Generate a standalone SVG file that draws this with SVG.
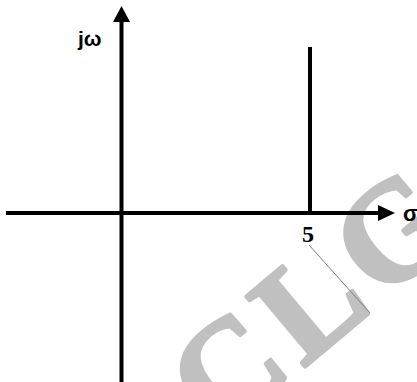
<svg xmlns="http://www.w3.org/2000/svg" width="417" height="382" viewBox="0 0 417 382">
<style>
.ax{stroke:#000;stroke-width:4;fill:none}
.lbl{font-family:"Liberation Sans",Arial,sans-serif;font-weight:bold;fill:#000}
.wm{font-family:"Liberation Serif","Times New Roman",serif;font-weight:bold;fill:#c0c0c0;stroke:#c0c0c0;stroke-width:4;stroke-linejoin:round}
</style>
<rect width="417" height="382" fill="#fff"/>
<g id="watermark">
<text class="wm" x="0" y="0" font-size="140" letter-spacing="9" transform="translate(219,439) rotate(-40)">CLG</text>
</g>
<g id="connectors">
<line class="ax" x1="121.5" y1="382" x2="121.5" y2="20"/>
<polygon points="113,22 130,22 121.5,6" fill="#000"/>
<line class="ax" x1="6" y1="213" x2="380" y2="213"/>
<polygon points="378,205 378,221 395,213" fill="#000"/>
<line class="ax" x1="310" y1="47" x2="310" y2="213"/>
<line x1="309" y1="245" x2="370" y2="313" stroke="#808080" stroke-width="1"/>
</g>
<g id="labels">
<text class="lbl" x="78" y="46" font-size="21">jω</text>
<text class="lbl" x="403" y="221" font-size="22">σ</text>
<text x="302" y="242" font-size="24" font-family="'Liberation Serif','Times New Roman',serif" font-weight="bold">5</text>
</g>
</svg>
